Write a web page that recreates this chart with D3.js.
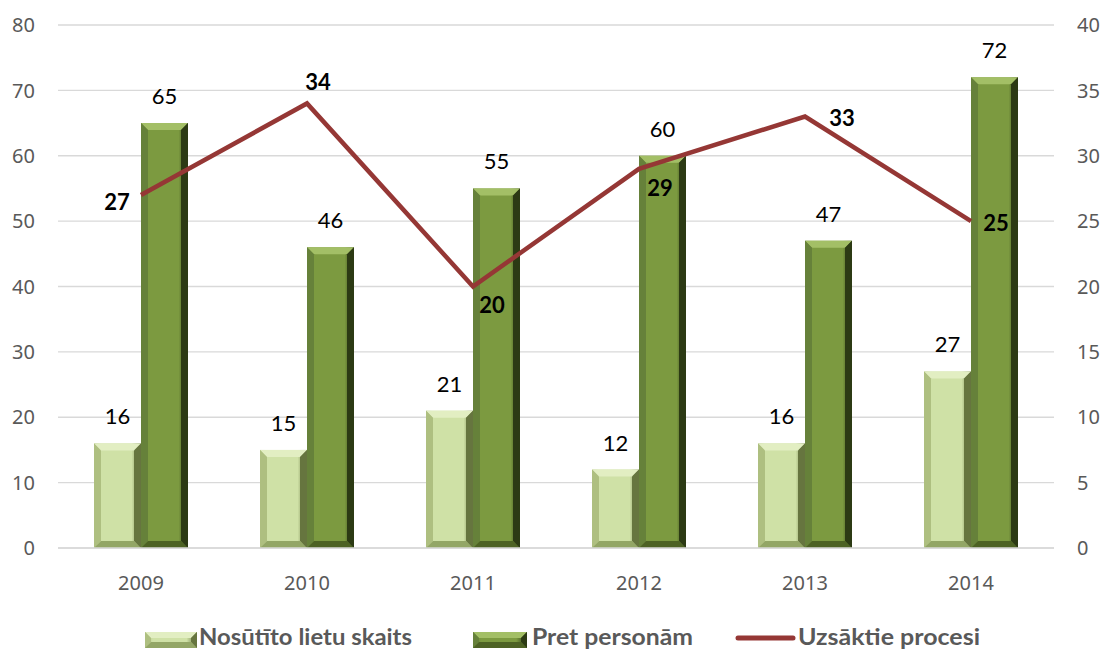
<!DOCTYPE html>
<html><head><meta charset="utf-8">
<script src="https://cdn.jsdelivr.net/npm/d3@7"></script>
<style>body{margin:0;background:#fff}svg{display:block}</style>
</head><body><svg id="c" width="1104" height="649"></svg>
<script>
const categories = ["2009","2010","2011","2012","2013","2014"];
const sent = [16,15,21,12,16,27];
const persons = [65,46,55,60,47,72];
const started = [27,34,20,29,33,25];
const lineLabelPos = ["left","above","below","belowright","right","rightnear"];
const leftTicks = [0,10,20,30,40,50,60,70,80];
const rightTicks = [0,5,10,15,20,25,30,35,40];
const seriesNames = ["Nosūtīto lietu skaits","Pret personām","Uzsāktie procesi"];

const svg = d3.select("#c");
const m = {l:58, r:1054, t:25, b:548};
const x = d3.scaleBand().domain(categories).range([m.l,m.r]);
const yL = d3.scaleLinear().domain([0,80]).range([m.b,m.t]);
const yR = d3.scaleLinear().domain([0,40]).range([m.b,m.t]);
const defs = svg.append("defs");

// grid
svg.append("g").selectAll("line").data(leftTicks).join("line")
  .attr("x1",m.l).attr("x2",m.r).attr("y1",d=>yL(d)).attr("y2",d=>yL(d))
  .attr("stroke","#d9d9d9").attr("stroke-width",1.3);

const axisFont = "'Noto Sans', 'Open Sans', sans-serif";
const axisSize = 20;
svg.append("g").selectAll("text").data(leftTicks).join("text")
  .attr("x",35).attr("y",d=>yL(d)).attr("dy","0.36em").attr("text-anchor","end")
  .attr("font-family",axisFont).attr("font-size",axisSize).attr("fill","#595959").text(d=>d);
svg.append("g").selectAll("text").data(rightTicks).join("text")
  .attr("x",1077).attr("y",d=>yR(d)).attr("dy","0.36em").attr("text-anchor","start")
  .attr("font-family",axisFont).attr("font-size",axisSize).attr("fill","#595959").text(d=>d);
svg.append("g").selectAll("text").data(categories).join("text")
  .attr("x",d=>x(d)+x.bandwidth()/2).attr("y",590).attr("text-anchor","middle")
  .attr("font-family",axisFont).attr("font-size",axisSize).attr("fill","#595959").text(d=>d);

// bevel bar
const pal = [
  {face:"#cfe1a6", top:"#e2eec2", left:"#aebf80", right:"#66753f", bottom:"#93a666"},
  {face:"#7c9a40", top:"#a3bf66", left:"#66813a", right:"#2c3a14", bottom:"#4d6224"}
];
function bevelBar(g, x0, y0, w, h, p, bv){
  const b = Math.min(bv||8, h/2, w/2);
  const x1 = x0+w, y1 = y0+h;
  const gid = "g"+Math.random().toString(36).slice(2);
  const gr = defs.append("linearGradient").attr("id",gid).attr("x1",0).attr("x2",1).attr("y1",0).attr("y2",0);
  gr.append("stop").attr("offset","0%").attr("stop-color",p.left);
  gr.append("stop").attr("offset","15%").attr("stop-color",p.face);
  gr.append("stop").attr("offset","80%").attr("stop-color",p.face);
  gr.append("stop").attr("offset","100%").attr("stop-color",p.right);
  g.append("rect").attr("x",x0).attr("y",y0).attr("width",w).attr("height",h).attr("fill",`url(#${gid})`);
  const poly = (pts,c)=>g.append("polygon").attr("points",pts.map(q=>q.join(",")).join(" ")).attr("fill",c);
  poly([[x0,y0],[x1,y0],[x1-b,y0+b],[x0+b,y0+b]], p.top);
  poly([[x0,y0],[x0+b,y0+b],[x0+b,y1-b],[x0,y1]], p.left);
  poly([[x1,y0],[x1,y1],[x1-b,y1-b],[x1-b,y0+b]], p.right);
  poly([[x0,y1],[x0+b,y1-b],[x1-b,y1-b],[x1,y1]], p.bottom);
}
const bw = 47;
const labFont = "Lato, 'Open Sans', sans-serif";
const barsG = svg.append("g");
categories.forEach((c,i)=>{
  const cx = x(c)+x.bandwidth()/2;
  bevelBar(barsG, cx-bw, yL(sent[i]), bw, yL(0)-yL(sent[i]), pal[0], 7);
  bevelBar(barsG, cx, yL(persons[i]), bw, yL(0)-yL(persons[i]), pal[1], 7);
});
svg.append("line").attr("x1",m.l).attr("x2",m.r).attr("y1",m.b).attr("y2",m.b).attr("stroke","#d9d9d9").attr("stroke-width",1.3);

// bar labels
svg.append("g").selectAll("text").data(sent).join("text")
  .attr("x",(d,i)=>x(categories[i])+x.bandwidth()/2-bw/2).attr("y",d=>yL(d)-19)
  .attr("text-anchor","middle").attr("font-family",labFont).attr("font-size",22).attr("fill","#000").text(d=>d);
svg.append("g").selectAll("text").data(persons).join("text")
  .attr("x",(d,i)=>x(categories[i])+x.bandwidth()/2+bw/2).attr("y",d=>yL(d)-19)
  .attr("text-anchor","middle").attr("font-family",labFont).attr("font-size",22).attr("fill","#000").text(d=>d);

// line
const line = d3.line().x((d,i)=>x(categories[i])+x.bandwidth()/2).y(d=>yR(d));
svg.append("path").datum(started).attr("d",line).attr("fill","none")
  .attr("stroke","#953735").attr("stroke-width",4.5).attr("stroke-linejoin","miter");

const off = {left:[-24,15], above:[11,-13], below:[19,26], belowright:[21,27], right:[37,9], rightnear:[25,10]};
svg.append("g").selectAll("text").data(started).join("text")
  .attr("x",(d,i)=>x(categories[i])+x.bandwidth()/2+off[lineLabelPos[i]][0])
  .attr("y",(d,i)=>yR(d)+off[lineLabelPos[i]][1])
  .attr("text-anchor","middle").attr("font-family",labFont).attr("font-weight","bold")
  .attr("font-size",22).attr("fill","#000").text(d=>d);

// legend
const lg = svg.append("g");
const legItems = [{x:145,w:52,tx:199,tw:213},{x:473,w:54,tx:532,tw:161},{x:738,w:55,tx:798,tw:182}];
legItems.forEach((it,i)=>{
  if(i<2){
    bevelBar(lg, it.x, 632, it.w, 16, pal[i], 6);
  } else {
    lg.append("line").attr("x1",it.x).attr("x2",it.x+it.w).attr("y1",638).attr("y2",638)
      .attr("stroke","#953735").attr("stroke-width",5).attr("stroke-linecap","round");
  }
  lg.append("text").attr("x",it.tx).attr("y",645)
    .attr("font-family",labFont).attr("font-weight","bold").attr("font-size",23).attr("fill","#595959")
    .attr("textLength",it.tw).attr("lengthAdjust","spacingAndGlyphs")
    .text(seriesNames[i]);
});
</script></body></html>
